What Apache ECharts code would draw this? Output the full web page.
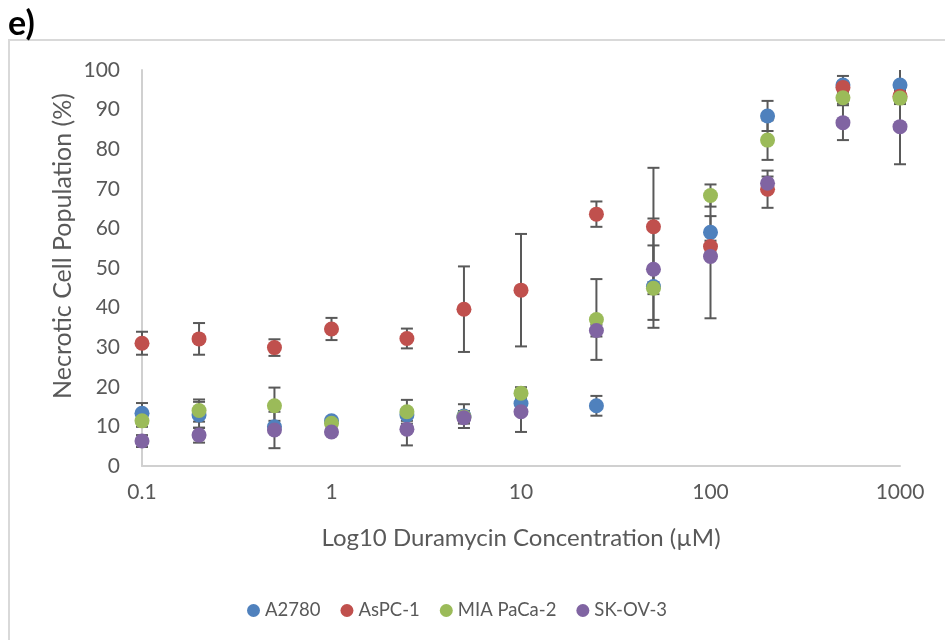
<!DOCTYPE html>
<html>
<head>
<meta charset="utf-8">
<script src="https://cdn.jsdelivr.net/npm/echarts@6/dist/echarts.min.js"></script>
<style>
  html, body { margin: 0; padding: 0; background: #fff; }
  #main { width: 945px; height: 640px; }
</style>
</head>
<body>
<div id="main"></div>
<script>
// concentrations (µM)
const conc = [0.1, 0.2, 0.5, 1, 2.5, 5, 10, 25, 50, 100, 200, 500, 1000];

// mean necrotic population (%) and error (±)
const a2780 = [13.3, 12.9, 9.9, 11.4, 12.9, 12.6, 15.8, 15.2, 45.3, 59.0, 88.4, 96.2, 96.2];
const a2780Err = [2.6, 3.3, 1.5, 0.8, 1.5, 3.0, 1.5, 2.5, 10.4, 4.1, 3.8, 2.3, 4.5];

const aspc1 = [31.0, 32.1, 29.9, 34.6, 32.2, 39.6, 44.4, 63.6, 60.4, 55.4, 69.9, 95.6, 93.4];
const aspc1Err = [2.9, 4.0, 2.1, 2.8, 2.5, 10.8, 14.2, 3.2, 14.9, 1.5, 4.7, 1.5, 1.5];

const mia = [11.4, 14.0, 15.2, 10.8, 13.7, 12.4, 18.4, 37.0, 44.9, 68.3, 82.3, 93.0, 92.9];
const miaErr = [1.5, 2.8, 4.6, 0.8, 3.0, 1.5, 1.5, 10.2, 1.5, 2.8, 5.0, 1.5, 1.5];

const skov3 = [6.3, 7.8, 9.1, 8.6, 9.3, 12.2, 13.7, 34.2, 49.7, 52.9, 71.4, 86.7, 85.7];
const skov3Err = [1.5, 1.9, 4.6, 0.8, 4.1, 1.5, 5.1, 1.5, 12.8, 15.6, 1.7, 4.4, 9.5];

const yTicks = [0, 10, 20, 30, 40, 50, 60, 70, 80, 90, 100];

const names = ['A2780', 'AsPC-1', 'MIA PaCa-2', 'SK-OV-3'];
const colors = ['#4F81BD', '#C0504D', '#9BBB59', '#8064A2'];
const means = [a2780, aspc1, mia, skov3];
const errs = [a2780Err, aspc1Err, miaErr, skov3Err];

const font = 'Lato, "Open Sans", sans-serif';
const yMax = yTicks[yTicks.length - 1];

function errBar(params, api) {
  const x = api.value(0);
  const lo = api.value(1);
  const hi = api.value(2);
  const top = api.coord([x, Math.min(hi, yMax)]);
  const bot = api.coord([x, Math.max(lo, 0)]);
  const w = 6;
  const st = { stroke: '#595959', lineWidth: 2 };
  const kids = [{ type: 'line', shape: { x1: top[0], y1: top[1], x2: bot[0], y2: bot[1] }, style: st }];
  if (hi <= yMax) kids.push({ type: 'line', shape: { x1: top[0] - w, y1: top[1], x2: top[0] + w, y2: top[1] }, style: st });
  if (lo >= 0) kids.push({ type: 'line', shape: { x1: bot[0] - w, y1: bot[1], x2: bot[0] + w, y2: bot[1] }, style: st });
  return { type: 'group', children: kids };
}

const series = [];
names.forEach(function (n, k) {
  series.push({
    name: n + ' err',
    type: 'custom',
    renderItem: errBar,
    z: 1,
    silent: true,
    data: conc.map(function (c, i) { return [c, means[k][i] - errs[k][i], means[k][i] + errs[k][i]]; })
  });
});
names.forEach(function (n, k) {
  series.push({
    name: n,
    type: 'scatter',
    symbol: 'circle',
    symbolSize: 15,
    z: 2 + k,
    itemStyle: { color: colors[k], opacity: 1 },
    data: conc.map(function (c, i) { return [c, means[k][i]]; })
  });
});

const chart = echarts.init(document.getElementById('main'));
chart.setOption({
  animation: false,
  backgroundColor: '#fff',
  color: colors,
  graphic: [
    {
      type: 'text', x: 8, y: 24,
      style: { text: 'e)', fontFamily: 'Lato', fontSize: 34, fontWeight: 'bold', fill: '#000', verticalAlign: 'middle' }
    },
    { type: 'rect', shape: { x: 9, y: 40, width: 960, height: 700 }, style: { fill: 'none', stroke: '#D9D9D9', lineWidth: 2 }, z: -1 },
    {
      type: 'text', x: 63, y: 246, rotation: Math.PI / 2,
      style: { text: 'Necrotic Cell Population (%)', fontFamily: font, fontSize: 25, fill: '#595959', align: 'center', verticalAlign: 'middle' }
    }
  ],
  grid: { left: 142, right: 45, top: 70, bottom: 174 },
  legend: {
    data: names,
    top: 596,
    left: 242,
    icon: 'circle',
    itemWidth: 13,
    itemHeight: 13,
    itemGap: 20,
    textStyle: { fontFamily: font, fontSize: 18.5, color: '#595959' }
  },
  xAxis: {
    type: 'log',
    logBase: 10,
    min: 0.1,
    max: 1000,
    name: 'Log10 Duramycin Concentration (µM)',
    nameLocation: 'middle',
    nameGap: 60,
    nameTextStyle: { fontFamily: font, fontSize: 24, color: '#595959' },
    axisLine: { lineStyle: { color: '#D0D0D0', width: 2 } },
    axisTick: { show: false },
    splitLine: { show: false },
    axisLabel: {
      fontFamily: font, fontSize: 21, color: '#595959', margin: 16,
      formatter: function (v) { return String(v); }
    }
  },
  yAxis: {
    type: 'value',
    min: yTicks[0],
    max: yMax,
    interval: 10,
    axisLine: { show: true, lineStyle: { color: '#D0D0D0', width: 2 } },
    axisTick: { show: false },
    splitLine: { show: false },
    axisLabel: { fontFamily: font, fontSize: 21, color: '#595959', margin: 22 }
  },
  series: series
});
</script>
</body>
</html>
